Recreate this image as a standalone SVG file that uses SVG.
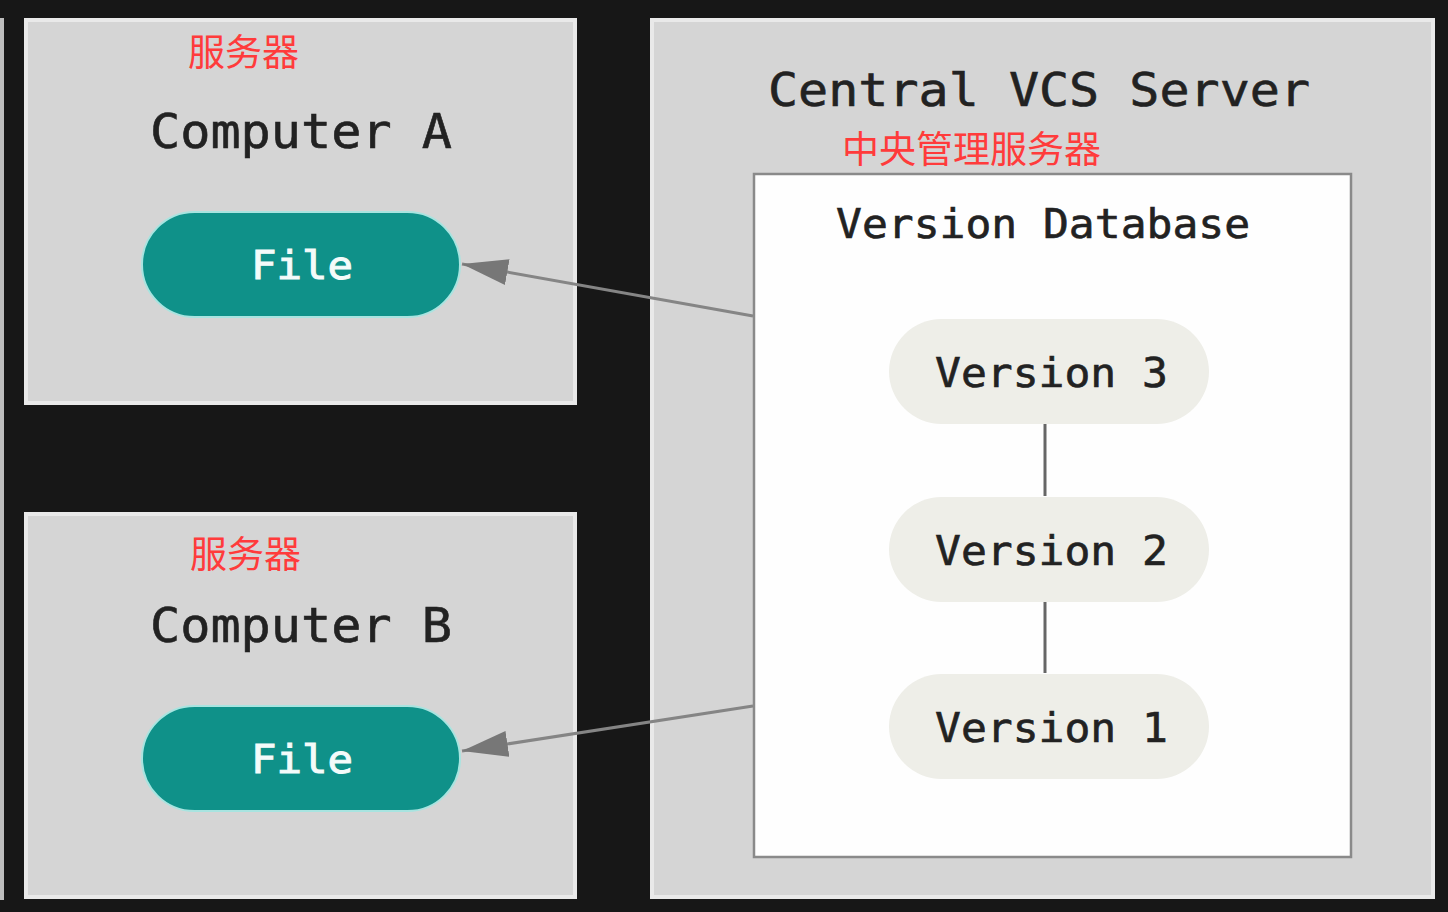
<svg xmlns="http://www.w3.org/2000/svg" width="1448" height="912" viewBox="0 0 1448 912">
  <defs>
    <style>
      .panel { fill: #d5d5d5; stroke: #e9e9e9; stroke-width: 4; }
      .mono { font-family: "DejaVu Sans Mono", "Liberation Mono", monospace; fill: #222; stroke: #222; stroke-width: 0.6; }
      .cn { font-family: "Noto Sans CJK SC", sans-serif; fill: #ff3b3b; font-size: 37px; }
      .file { fill: #0f9189; stroke: #a8e4e0; stroke-width: 2; }
      .filetxt { font-family: "DejaVu Sans Mono", "Liberation Mono", monospace; fill: #f4fbfa; stroke: #f4fbfa; stroke-width: 1; font-size: 39px; }
      .ver { fill: #eeeee8; }
      .conn { stroke: #858585; stroke-width: 3; fill: none; }
      .vline { stroke: #666; stroke-width: 3; }
    </style>
    <marker id="arrow" viewBox="0 0 46 26" refX="46" refY="13" markerWidth="46" markerHeight="26" markerUnits="userSpaceOnUse" orient="auto">
      <path d="M46,13 L0,0 L0,26 Z" fill="#777"/>
    </marker>
  </defs>

  <rect x="0" y="0" width="1448" height="912" fill="#171717"/>
  <rect x="0" y="18" width="4" height="882" fill="#bdbdbd"/>

  <g id="computer-a">
    <rect class="panel" x="26" y="20" width="549" height="383"/>
    <text class="cn" x="188" y="66">服务器</text>
    <text class="mono" x="150" y="148" font-size="48" textLength="302" lengthAdjust="spacingAndGlyphs">Computer A</text>
    <g id="file-a">
      <rect class="file" x="142" y="212" width="318" height="105" rx="52.5"/>
      <text class="filetxt" x="251" y="279" textLength="102" lengthAdjust="spacingAndGlyphs">File</text>
    </g>
  </g>

  <g id="computer-b">
    <rect class="panel" x="26" y="514" width="549" height="383"/>
    <text class="cn" x="190" y="568">服务器</text>
    <text class="mono" x="150" y="642" font-size="48" textLength="302" lengthAdjust="spacingAndGlyphs">Computer B</text>
    <g id="file-b">
      <rect class="file" x="142" y="706" width="318" height="105" rx="52.5"/>
      <text class="filetxt" x="251" y="773" textLength="102" lengthAdjust="spacingAndGlyphs">File</text>
    </g>
  </g>

  <g id="central-server">
    <rect class="panel" x="652" y="20" width="781" height="877"/>
    <text class="mono" x="768" y="106" font-size="46" textLength="542" lengthAdjust="spacingAndGlyphs">Central VCS Server</text>
    <text class="cn" x="842" y="163">中央管理服务器</text>
  </g>

  <g id="version-database">
    <rect x="754" y="174" width="597" height="683" fill="#fefefe" stroke="#8a8a8a" stroke-width="2.5"/>
    <text class="mono" x="836" y="238" font-size="40" textLength="414" lengthAdjust="spacingAndGlyphs">Version Database</text>
  </g>

  <g id="connectors">
    <line class="conn" x1="753" y1="316" x2="462" y2="264" marker-end="url(#arrow)"/>
    <line class="conn" x1="753" y1="706" x2="462" y2="751" marker-end="url(#arrow)"/>
    <line class="vline" x1="1045" y1="424" x2="1045" y2="496"/>
    <line class="vline" x1="1045" y1="602" x2="1045" y2="673"/>
  </g>

  <g id="version-3">
    <rect class="ver" x="889" y="319" width="320" height="105" rx="52.5"/>
    <text class="mono" x="935" y="387" font-size="40" textLength="233" lengthAdjust="spacingAndGlyphs">Version 3</text>
  </g>
  <g id="version-2">
    <rect class="ver" x="889" y="497" width="320" height="105" rx="52.5"/>
    <text class="mono" x="935" y="565" font-size="40" textLength="233" lengthAdjust="spacingAndGlyphs">Version 2</text>
  </g>
  <g id="version-1">
    <rect class="ver" x="889" y="674" width="320" height="105" rx="52.5"/>
    <text class="mono" x="935" y="742" font-size="40" textLength="233" lengthAdjust="spacingAndGlyphs">Version 1</text>
  </g>
</svg>
